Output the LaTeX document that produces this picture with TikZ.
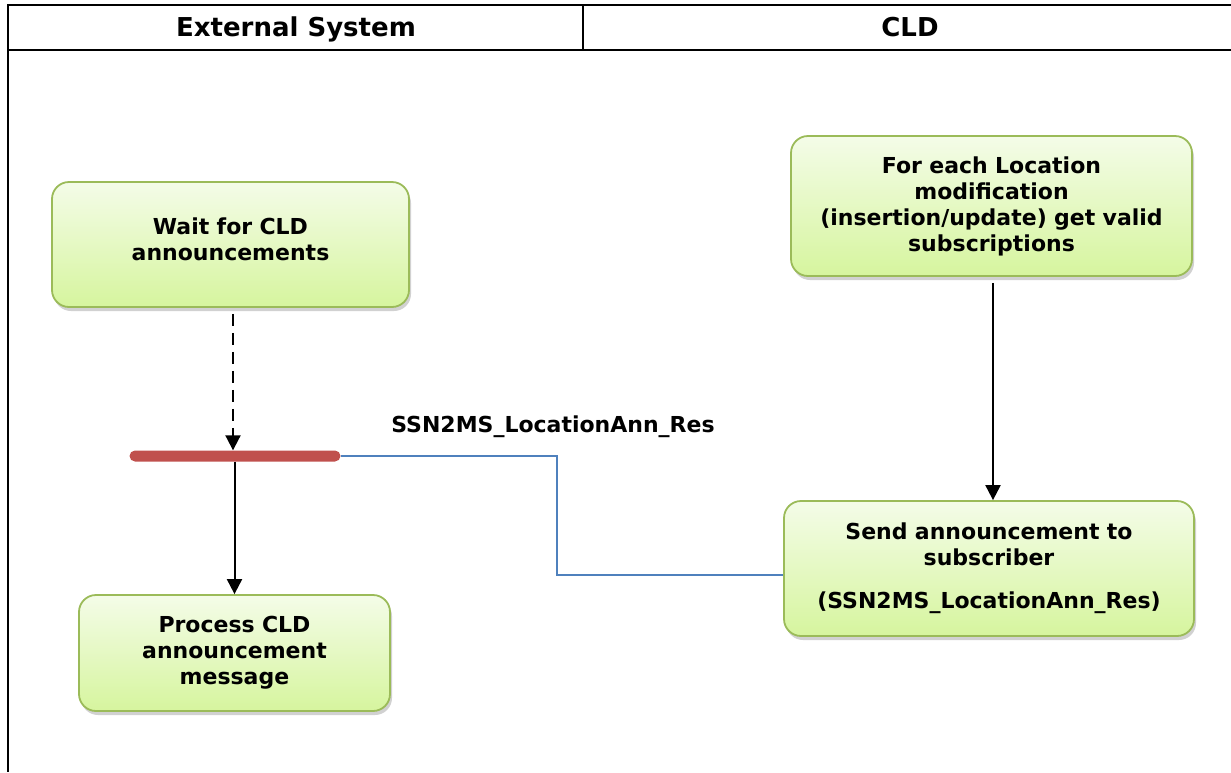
\documentclass[tikz,border=0pt]{standalone}
\usepackage{fontspec}
\setmainfont{DejaVu Sans}
\usetikzlibrary{arrows.meta,shadows,positioning}
\definecolor{boxborder}{HTML}{9BBB59}
\definecolor{boxtop}{HTML}{F4FCE8}
\definecolor{boxbot}{HTML}{D6F59E}
\definecolor{barred}{HTML}{C0504D}
\definecolor{msgblue}{HTML}{4F81BD}
\tikzset{
  actbox/.style={draw=boxborder, line width=1.8pt, rounded corners=17pt,
    top color=boxtop, bottom color=boxbot, align=center,
    font=\fontsize{22}{26}\selectfont\bfseries,
    drop shadow={shadow xshift=2pt, shadow yshift=-4pt, opacity=0.3, fill=black!60}},
  hdr/.style={font=\fontsize{26}{28}\selectfont\bfseries, anchor=base},
  tbl/.style={line width=2.8pt, black},
  flow/.style={line width=2pt, -{Triangle[width=15pt,length=15pt]}},
  msg/.style={draw=msgblue, line width=1.8pt}
}
\begin{document}
\begin{tikzpicture}[x=1pt,y=1pt]
\useasboundingbox (0,0) rectangle (1231,-772);
% table frame
\coordinate (tl) at (8,-5);
\coordinate (tr) at (1231,-5);
\coordinate (hl) at (8,-50);
\coordinate (hr) at (1231,-50);
\coordinate (bl) at (8,-772);
\coordinate (dt) at (583,-5);
\coordinate (db) at (583,-50);
\draw[tbl] (tr) -- (tl) -- (bl);
\draw[tbl] (hl) -- (hr);
\draw[tbl] (dt) -- (db);
\node[hdr] (h1) at (296,-36) {External System};
\node[hdr] (h2) at (910,-36) {CLD};
% boxes
\node[actbox, minimum width=357pt, minimum height=125pt, text width=340pt] (wait) at (230.5,-244.5)
  {Wait for CLD\\announcements\\[-24pt]\strut};
\node[actbox, minimum width=311pt, minimum height=116pt, text width=300pt] (proc) at (234.5,-653)
  {Process CLD\\announcement\\message};
\node[actbox, minimum width=401pt, minimum height=140pt, text width=390pt] (each) at (991.5,-206)
  {For each Location\\modification\\(insertion/update) get valid\\subscriptions};
\node[actbox, minimum width=410pt, minimum height=135pt, text width=400pt] (send) at (989,-568.5)
  {Send announcement to\\subscriber\\[17pt](SSN2MS\_LocationAnn\_Res)};
% sync bar
\node[fill=barred, draw=none, rounded corners=5.5pt, minimum width=211pt, minimum height=11pt, inner sep=0pt] (bar) at (235,-456) {};
% flows
\draw[flow, dashed, dash pattern=on 12pt off 7pt, shorten <=6pt] ([xshift=2.5pt]wait.south) -- ([xshift=2.5pt]wait.south |- bar.north);
\draw[flow] (bar.south -| proc.north) -- (proc.north);
\draw[flow, shorten <=6pt] ([xshift=1.5pt]each.south) -- ([xshift=1.5pt]each.south |- send.north);
% message
\coordinate (m1) at (557,-456);
\coordinate (m2) at (557,-575);
\draw[msg] (bar.east) -- (m1) -- (m2) -- (m2 -| send.west);
\node[font=\fontsize{22}{26}\selectfont\bfseries] (lbl) at (553,-427) {SSN2MS\_LocationAnn\_Res};
\end{tikzpicture}
\end{document}
